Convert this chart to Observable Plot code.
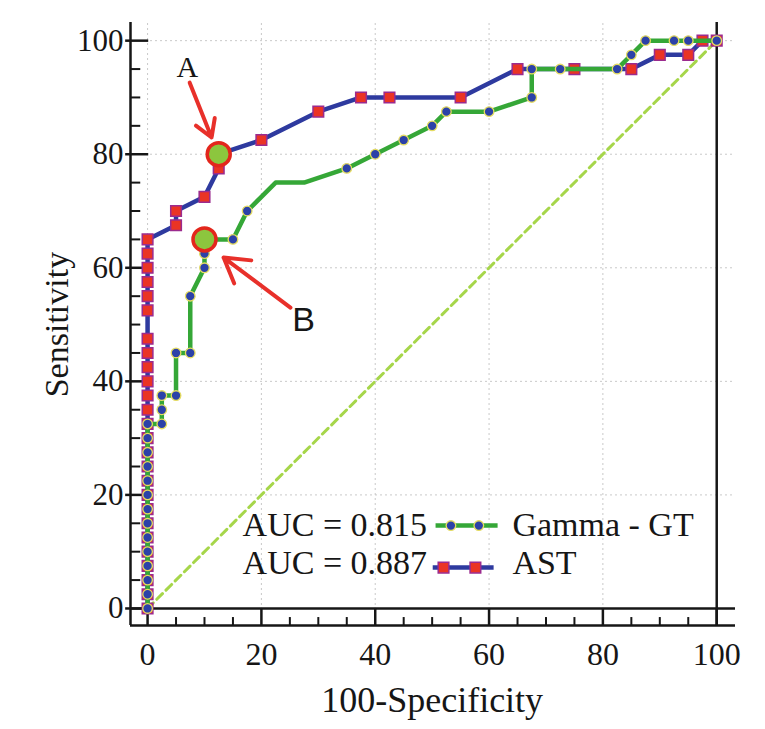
<!DOCTYPE html>
<html>
<head>
<meta charset="utf-8">
<script src="https://cdn.jsdelivr.net/npm/d3@7"></script>
<script src="https://cdn.jsdelivr.net/npm/@observablehq/plot@0.6"></script>
<style>
  body { margin: 0; background: #fff; }
  #wrap { position: relative; width: 765px; height: 729px; }
  #edge { position: absolute; left: 20px; top: 8px; bottom: 0; width: 2px; background: #d6ebd2; }
  #wrap svg { position: absolute; left: 0; top: 0; }
</style>
</head>
<body>
<div id="wrap"><div id="edge"></div></div>
<script>
// ---------- data ----------
const astX = [0,0,0,0,0,0,0,0,0,0,0,0,0,0,0,0,0,0,0,0,0,0,0,0,0,0,
  5,5,10,12.5,12.5,20,30,37.5,42.5,55,65,75,85,90,95,97.5,100];
const astY = [0,2.5,5,7.5,10,12.5,15,17.5,20,22.5,25,27.5,30,32.5,35,37.5,40,42.5,45,47.5,
  52.5,55,57.5,60,62.5,65,
  67.5,70,72.5,77.5,80,82.5,87.5,90,90,90,95,95,95,97.5,97.5,100,100];

const gammaX = [0,0,0,0,0,0,0,0,0,0,0,0,0,0,
  2.5,2.5,2.5,5,5,7.5,7.5,10,10,10,15,17.5,22.5,27.5,35,40,45,50,52.5,60,67.5,67.5,72.5,82.5,85,87.5,92.5,95,100];
const gammaY = [0,2.5,5,7.5,10,12.5,15,17.5,20,22.5,25,27.5,30,32.5,
  32.5,35,37.5,37.5,45,45,55,60,62.5,65,65,70,75,75,77.5,80,82.5,85,87.5,87.5,90,95,95,95,97.5,100,100,100,100];
// vertices of the Gamma-GT curve drawn without a marker
const gammaPlainVertices = [[22.5,75],[27.5,75]];

const chanceLine = [{x: 0, y: 0}, {x: 100, y: 100}];

const seriesNames = ["Gamma - GT", "AST"];
const aucLabels = ["AUC = 0.815", "AUC = 0.887"];

const xTickLabels = [0, 20, 40, 60, 80, 100];
const yTickLabels = [0, 20, 40, 60, 80, 100];
const minorTicks = [5,10,15,25,30,35,45,50,55,65,70,75,85,90,95];

// highlighted cut-off points and annotations
const cutoffs = [{x: 12.5, y: 80, label: "A"}, {x: 10, y: 65, label: "B"}];
const arrows = [
  {x1: 7.4, y1: 92.6, x2: 11.25, y2: 82.95},
  {x1: 25.1, y1: 53.0, x2: 13.36, y2: 61.8}
];
const labelA = [{x: 7.0, y: 95.3, text: "A"}];
const labelB = [{x: 27.4, y: 50.7, text: "B"}];

// ---------- layout ----------
const X_DOMAIN = [-3, 103.3];
const Y_DOMAIN = [-3, 103.2];
const SERIF = "Liberation Serif, Times New Roman, serif";
const SANS = "Liberation Sans, Arial, sans-serif";
const INK = "#161616";

const AST_LINE = "#2e3a9f", AST_FILL = "#ea3424", AST_EDGE = "#9b2b8e";
const GGT_LINE = "#35a737", GGT_FILL = "#2c41a8", GGT_EDGE = "#e5dc62";

const ast = astX.map((x, i) => ({x, y: astY[i]}));
const gamma = gammaX.map((x, i) => ({x, y: gammaY[i]}));
const gammaMarked = gamma.filter(d => !gammaPlainVertices.some(([px, py]) => px === d.x && py === d.y));

// legend (data units)
const legend = [
  {auc: aucLabels[0], name: seriesNames[0], base: 12.68, lineY: 14.6, lx1: 50.6, lx2: 61.5, marks: [53.3, 58.2]},
  {auc: aucLabels[1], name: seriesNames[1], base: 5.99, lineY: 7.2, lx1: 50.1, lx2: 60.8, marks: [52.0, 57.6]}
];
const legendTextX = 16.7, legendNameX = 64.1;

const chart = Plot.plot({
  width: 765,
  height: 729,
  marginLeft: 130,
  marginRight: 30,
  marginTop: 22,
  marginBottom: 104,
  x: {domain: X_DOMAIN, axis: null},
  y: {domain: Y_DOMAIN, axis: null},
  style: {background: "white", overflow: "visible"},
  marks: [
    // grid
    Plot.ruleX(xTickLabels, {y1: Y_DOMAIN[0], y2: Y_DOMAIN[1], stroke: "#c9c9c9", strokeWidth: 1, strokeDasharray: "2,3"}),
    Plot.ruleY(yTickLabels, {x1: X_DOMAIN[0], x2: X_DOMAIN[1], stroke: "#c9c9c9", strokeWidth: 1, strokeDasharray: "2,3"}),
    // chance diagonal
    Plot.line(chanceLine, {x: "x", y: "y", stroke: "#a6d64a", strokeWidth: 3, strokeDasharray: "8,5"}),
    // frame lines
    Plot.ruleX([X_DOMAIN[0], 100], {y1: Y_DOMAIN[0], y2: Y_DOMAIN[1], stroke: INK, strokeWidth: 2.5}),
    Plot.ruleY([Y_DOMAIN[0], 0], {x1: X_DOMAIN[0], x2: X_DOMAIN[1], stroke: INK, strokeWidth: 2.5}),
    // x ticks
    Plot.ruleX(xTickLabels, {y1: Y_DOMAIN[0], y2: 0, stroke: INK, strokeWidth: 2.5}),
    Plot.ruleX(minorTicks, {y1: Y_DOMAIN[0], y2: -1.6, stroke: INK, strokeWidth: 2}),
    // y ticks
    Plot.ruleY(yTickLabels, {x1: -3.85, x2: 0.2, stroke: INK, strokeWidth: 2.5}),
    Plot.ruleY(minorTicks, {x1: X_DOMAIN[0], x2: -1.2, stroke: INK, strokeWidth: 2}),
    // tick labels
    Plot.text(xTickLabels, {x: d => d, y: Y_DOMAIN[0], dy: 29, text: d => `${d}`, fontSize: 32, fontFamily: SERIF, fill: INK}),
    Plot.text(yTickLabels, {x: X_DOMAIN[0], y: d => d, dx: -7, textAnchor: "end", text: d => `${d}`, fontSize: 31, fontFamily: SERIF, fill: INK}),
    // axis titles
    Plot.text(["100-Specificity"], {x: 50, y: Y_DOMAIN[0], dy: 75, text: d => d, fontSize: 36, fontFamily: SERIF, fill: INK}),
    Plot.text(["Sensitivity"], {x: X_DOMAIN[0], y: 50, dx: -73, rotate: -90, text: d => d, fontSize: 34, fontFamily: SERIF, fill: INK}),
    // AST
    Plot.line(ast, {x: "x", y: "y", stroke: AST_LINE, strokeWidth: 4.5}),
    Plot.dot(ast, {x: "x", y: "y", symbol: "square", r: 6, fill: AST_FILL, stroke: AST_EDGE, strokeWidth: 1.5}),
    // Gamma-GT
    Plot.line(gamma, {x: "x", y: "y", stroke: GGT_LINE, strokeWidth: 4.5}),
    Plot.dot(gammaMarked, {x: "x", y: "y", r: 4.8, fill: GGT_FILL, stroke: GGT_EDGE, strokeWidth: 1.3}),
    // cut-off highlights
    Plot.dot(cutoffs, {x: "x", y: "y", r: 11.5, fill: "#8cc63e", stroke: "#e3261c", strokeWidth: 3.5}),
    Plot.arrow(arrows, {x1: "x1", y1: "y1", x2: "x2", y2: "y2", stroke: "#e8302a", strokeWidth: 4, headLength: 18, headAngle: 62}),
    Plot.text(labelA, {x: "x", y: "y", text: "text", fontFamily: SERIF, fontSize: 30, fill: INK}),
    Plot.text(labelB, {x: "x", y: "y", text: "text", fontFamily: SANS, fontSize: 34, fill: INK}),
    // legend
    Plot.text(legend, {x: legendTextX, y: "base", text: "auc", lineAnchor: "bottom", textAnchor: "start", fontSize: 34, fontFamily: SERIF, fill: INK}),
    Plot.text(legend, {x: legendNameX, y: "base", text: "name", lineAnchor: "bottom", textAnchor: "start", fontSize: 34, fontFamily: SERIF, fill: INK}),
    Plot.link([legend[0]], {x1: "lx1", x2: "lx2", y1: "lineY", y2: "lineY", stroke: GGT_LINE, strokeWidth: 4.5}),
    Plot.dot(legend[0].marks.map(x => ({x, y: legend[0].lineY})), {x: "x", y: "y", r: 4.8, fill: GGT_FILL, stroke: GGT_EDGE, strokeWidth: 1.3}),
    Plot.link([legend[1]], {x1: "lx1", x2: "lx2", y1: "lineY", y2: "lineY", stroke: AST_LINE, strokeWidth: 4.5}),
    Plot.dot(legend[1].marks.map(x => ({x, y: legend[1].lineY})), {x: "x", y: "y", symbol: "square", r: 6, fill: AST_FILL, stroke: AST_EDGE, strokeWidth: 1.5})
  ]
});

document.getElementById("wrap").appendChild(chart);
</script>
</body>
</html>
